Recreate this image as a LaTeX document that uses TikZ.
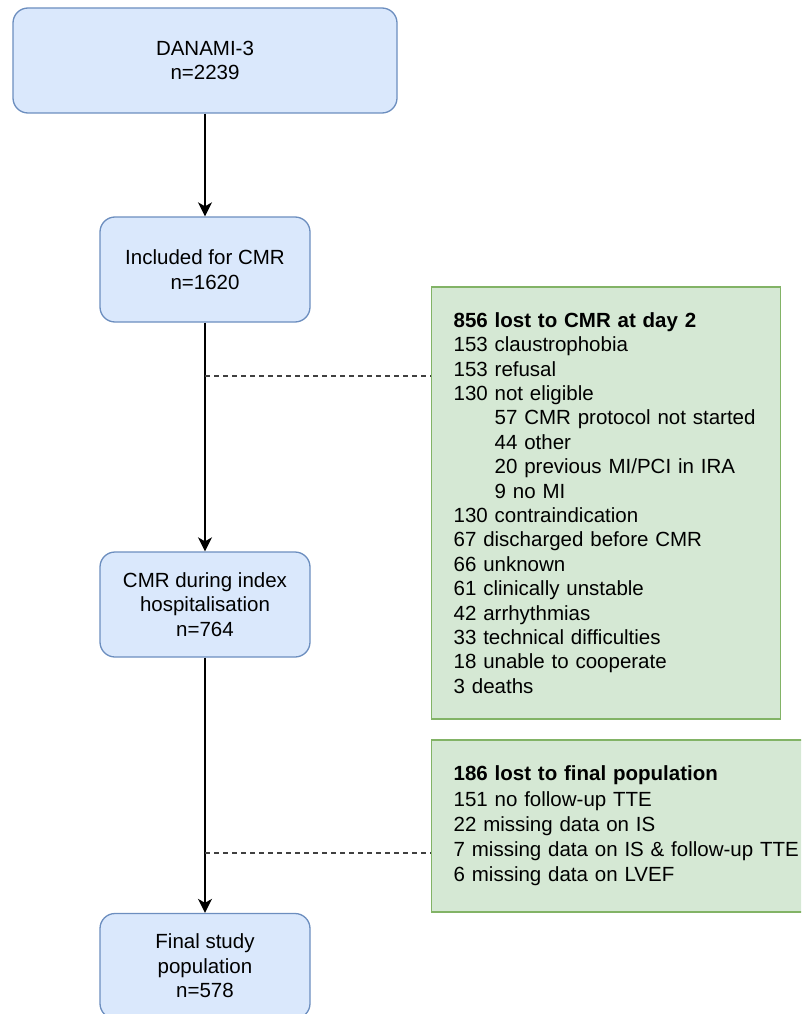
\documentclass[tikz,border=0pt]{standalone}
\usepackage{fontspec}
\setmainfont{Liberation Sans}
\usetikzlibrary{arrows.meta}
\definecolor{bfill}{HTML}{DAE8FC}
\definecolor{bdraw}{HTML}{6C8EBF}
\definecolor{gfill}{HTML}{D5E8D4}
\definecolor{gdraw}{HTML}{82B366}
\begin{document}
\begin{tikzpicture}[x=1pt,y=-1pt,
  every node/.style={font=\fontsize{20.5}{24.5}\selectfont},
  bluebox/.style={draw=bdraw, fill=bfill, line width=1.3pt, rounded corners=15pt,
    minimum width=210pt, minimum height=105pt, align=center, inner sep=0pt},
  greenbox/.style={draw=gdraw, fill=gfill, line width=1.3pt, align=left,
    inner xsep=22pt, inner ysep=0pt, anchor=west},
  flow/.style={-{Stealth[length=14pt,width=14pt,inset=4pt]}, line width=1.8pt},
  lostline/.style={draw=black!75, line width=1.6pt, dash pattern=on 5pt off 4pt}
]
\path[use as bounding box] (0,0) rectangle (801,1014);
\clip (0,0) rectangle (801,1014);

\node[bluebox, minimum width=384pt] (b1) at (205,60.5) {DANAMI-3\\n=2239};
\node[bluebox] (b2) at (205,269.5) {Included for CMR\\n=1620};
\node[bluebox] (b3) at (205,604.5) {CMR during index\\hospitalisation\\n=764};
\node[bluebox] (b4) at (205,966) {Final study\\population\\n=578};

\node[greenbox, text width=305pt, minimum height=432pt,
  font=\fontsize{20.5}{24.4}\selectfont] (g1) at (431,503) {%
\textbf{856 lost to CMR at day 2}\\
153 claustrophobia\\
153 refusal\\
130 not eligible\\
\hspace*{41pt}57 CMR protocol not started\\
\hspace*{41pt}44 other\\
\hspace*{41pt}20 previous MI/PCI in IRA\\
\hspace*{41pt}9 no MI\\
130 contraindication\\
67 discharged before CMR\\
66 unknown\\
61 clinically unstable\\
42 arrhythmias\\
33 technical difficulties\\
18 unable to cooperate\\
3 deaths};

\node[greenbox, text width=380pt, minimum height=172pt,
  font=\fontsize{20.5}{25.2}\selectfont] (g2) at (431,826) {%
\textbf{186 lost to final population}\\
151 no follow-up TTE\\
22 missing data on IS\\
7 missing data on IS \& follow-up TTE\\
6 missing data on LVEF};

\draw[flow] (b1) -- (b2);
\draw[flow] (b2) -- (b3);
\draw[flow] (b3) -- (b4);

\coordinate (j1) at (205,376);
\coordinate (j2) at (205,853);
\draw[lostline] (j1) -- (j1 -| g1.west);
\draw[lostline] (j2) -- (j2 -| g2.west);
\end{tikzpicture}
\end{document}
